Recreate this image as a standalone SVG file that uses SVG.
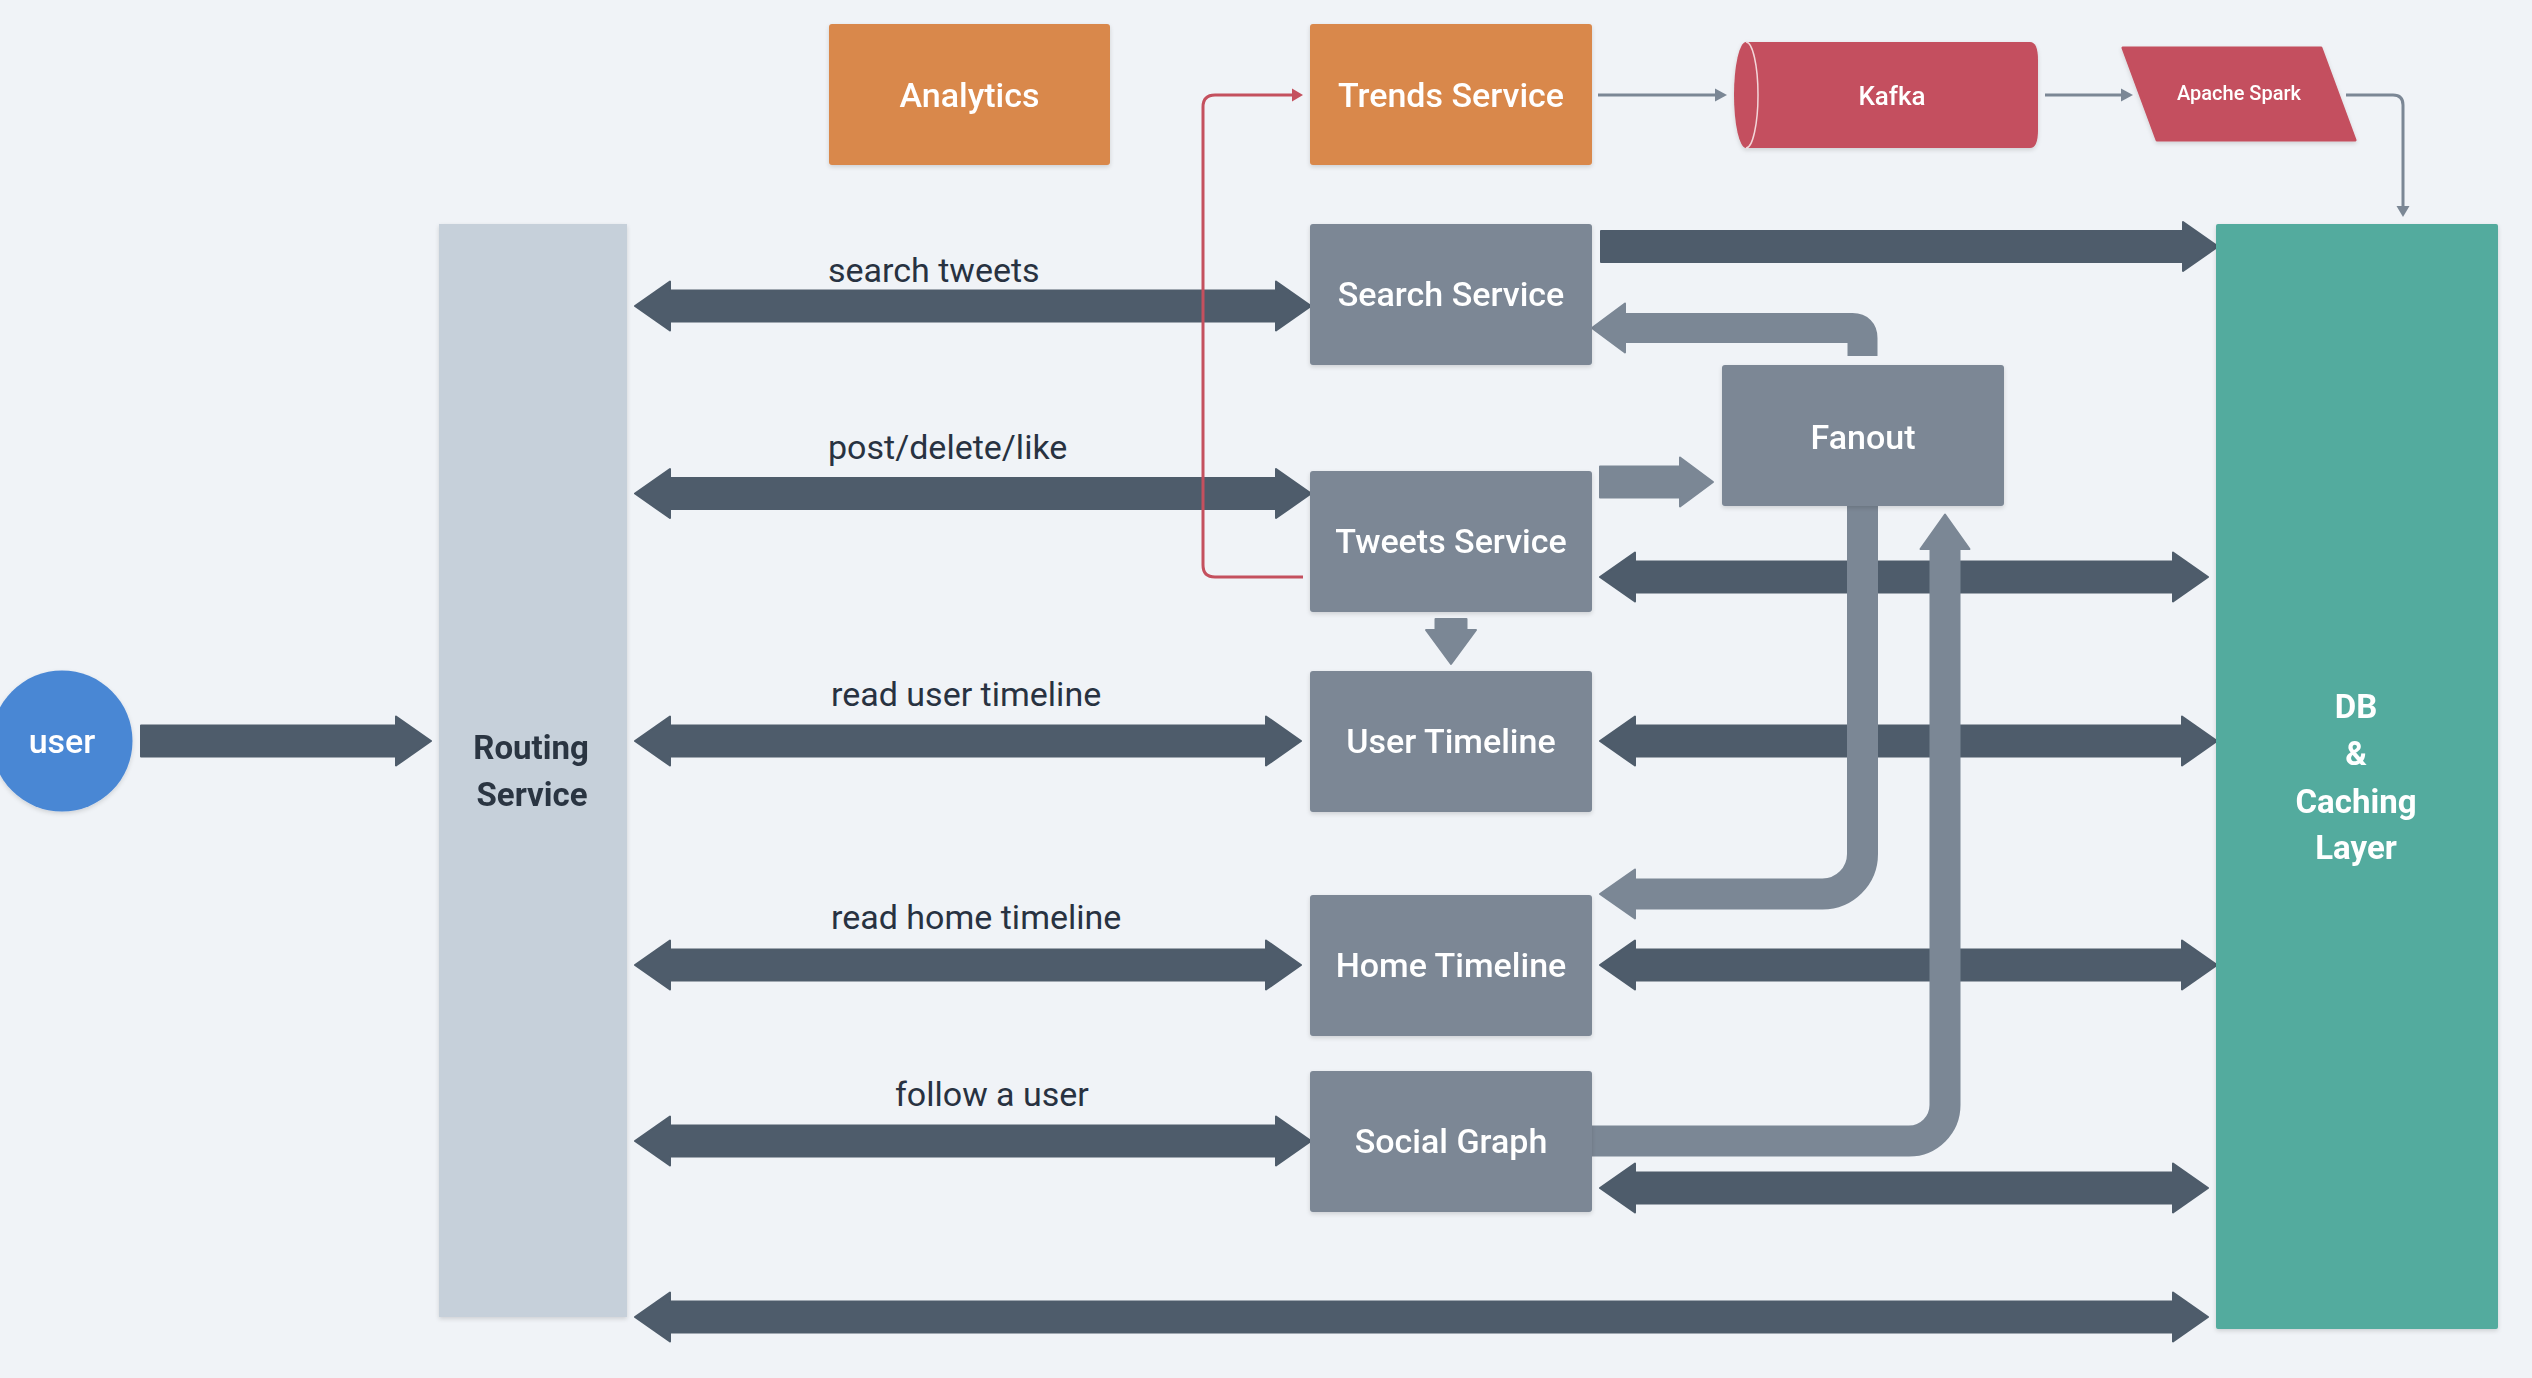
<svg xmlns="http://www.w3.org/2000/svg" width="2532" height="1378" viewBox="0 0 2532 1378">
<defs>
<filter id="sh" x="-10%" y="-10%" width="120%" height="120%">
<feDropShadow dx="0" dy="2" stdDeviation="2" flood-color="#000" flood-opacity="0.14"/>
</filter>
</defs>
<style>
.bg{fill:#f0f3f7}
.gray{fill:#7b8795}
.orange{fill:#d9884b}
.red{fill:#c4505e}
.teal{fill:#52ab9e}
.rout{fill:#c6d0da}
.blue{fill:#4a87d4}
.dark{fill:#4e5c6b;stroke:#4e5c6b;stroke-width:2;stroke-linejoin:round}
.garr{fill:#7b8795;stroke:#7b8795;stroke-width:2;stroke-linejoin:round}
.gpath{fill:none;stroke:#7b8795;stroke-width:31}
.thin{fill:none;stroke:#7b8795;stroke-width:3}
.thinred{fill:none;stroke:#c4505e;stroke-width:3}
.t{font-family:Roboto,"Liberation Sans",sans-serif;fill:#fff;text-anchor:middle}
.lbl{font-family:Roboto,"Liberation Sans",sans-serif;fill:#283241;font-size:34px}
.nl{font-size:34px;font-weight:500}
.b{font-weight:700}
</style>
<rect class="bg" x="0" y="0" width="2532" height="1378"/>

<g id="connectors">
<polygon class="dark" points="635,306 670,281.5 670,290.5 1276,290.5 1276,281.5 1311,306 1276,330.5 1276,321.5 670,321.5 670,330.5"/>
<polygon class="dark" points="635,493.5 670,469 670,478 1276,478 1276,469 1311,493.5 1276,518 1276,509 670,509 670,518"/>
<polygon class="dark" points="635,741 670,716.5 670,725.5 1266,725.5 1266,716.5 1301,741 1266,765.5 1266,756.5 670,756.5 670,765.5"/>
<polygon class="dark" points="635,965 670,940.5 670,949.5 1266,949.5 1266,940.5 1301,965 1266,989.5 1266,980.5 670,980.5 670,989.5"/>
<polygon class="dark" points="635,1141 670,1116.5 670,1125.5 1276,1125.5 1276,1116.5 1311,1141 1276,1165.5 1276,1156.5 670,1156.5 670,1165.5"/>
<polygon class="dark" points="635,1317 670,1292.5 670,1301.5 2173,1301.5 2173,1292.5 2208,1317 2173,1341.5 2173,1332.5 670,1332.5 670,1341.5"/>
<polygon class="dark" points="141,725.5 396,725.5 396,716.5 431,741 396,765.5 396,756.5 141,756.5"/>
<polygon class="dark" points="1601,231 2183,231 2183,222 2218,246.5 2183,271 2183,262 1601,262"/>
<polygon class="dark" points="1600,577 1635,552.5 1635,561.5 2173,561.5 2173,552.5 2208,577 2173,601.5 2173,592.5 1635,592.5 1635,601.5"/>
<polygon class="dark" points="1600,741 1635,716.5 1635,725.5 2182,725.5 2182,716.5 2217,741 2182,765.5 2182,756.5 1635,756.5 1635,765.5"/>
<polygon class="dark" points="1600,965 1635,940.5 1635,949.5 2182,949.5 2182,940.5 2217,965 2182,989.5 2182,980.5 1635,980.5 1635,989.5"/>
<polygon class="dark" points="1600,1188 1635,1163.5 1635,1172.5 2173,1172.5 2173,1163.5 2208,1188 2173,1212.5 2173,1203.5 1635,1203.5 1635,1212.5"/>
<polygon class="garr" points="1600,466.5 1680,466.5 1680,457.5 1713,482 1680,506.5 1680,497.5 1600,497.5"/>
<polygon class="garr" points="1435.5,619 1466.5,619 1466.5,630 1476,630 1451,664 1426,630 1435.5,630"/>
<path class="gpath" d="M1862.5,356 V338 Q1862.5,328 1852.5,328 H1622" style="stroke-width:30"/>
<polygon class="garr" points="1625,303.5 1592,328 1625,352.5"/>
<path class="gpath" d="M1862.5,500 V854 A40,40 0 0 1 1822.5,894 H1633"/>
<polygon class="garr" points="1635,869.5 1600,894 1635,918.5"/>
<path class="gpath" d="M1590,1141 H1909 A36,36 0 0 0 1945,1105 V547"/>
<polygon class="garr" points="1920.5,549 1945,514.5 1969.5,549"/>
<path class="thin" d="M1598,95 H1718"/>
<polygon fill="#7b8795" points="1715,88.5 1727,95 1715,101.5"/>
<path class="thin" d="M2045,95 H2124"/>
<polygon fill="#7b8795" points="2121,88.5 2133,95 2121,101.5"/>
<path class="thin" d="M2346,95 H2393 Q2403,95 2403,105 V208"/>
<polygon fill="#7b8795" points="2396.5,206 2403,217 2409.5,206"/>
<path class="thinred" d="M1303,577 H1215 Q1203,577 1203,565 V107 Q1203,95 1215,95 H1294"/>
<polygon fill="#c4505e" points="1292,88.5 1303,95 1292,101.5"/>
</g>

<g id="labels">
<text class="lbl" x="828" y="282">search tweets</text>
<text class="lbl" x="828" y="459">post/delete/like</text>
<text class="lbl" x="831" y="706">read user timeline</text>
<text class="lbl" x="831" y="929">read home timeline</text>
<text class="lbl" x="895" y="1106">follow a user</text>
</g>

<g id="user" filter="url(#sh)">
<circle class="blue" cx="62" cy="741" r="70.5"/>
<text class="t nl" x="62" y="753">user</text>
</g>

<g id="routing-service" filter="url(#sh)">
<rect class="rout" x="439" y="224" width="188" height="1093"/>
<text class="t b" style="fill:#2b3542;font-size:33px" x="531" y="759">Routing</text>
<text class="t b" style="fill:#2b3542;font-size:33px" x="532" y="806">Service</text>
</g>

<g id="analytics" filter="url(#sh)">
<rect class="orange" x="829" y="24" width="281" height="141" rx="3"/>
<text class="t nl" x="969.5" y="107">Analytics</text>
</g>

<g id="trends-service" filter="url(#sh)">
<rect class="orange" x="1310" y="24" width="282" height="141" rx="3"/>
<text class="t nl" x="1451" y="107">Trends Service</text>
</g>

<g id="search-service" filter="url(#sh)">
<rect class="gray" x="1310" y="224" width="282" height="141" rx="3"/>
<text class="t nl" x="1451" y="306">Search Service</text>
</g>

<g id="tweets-service" filter="url(#sh)">
<rect class="gray" x="1310" y="471" width="282" height="141" rx="3"/>
<text class="t nl" x="1451" y="553">Tweets Service</text>
</g>

<g id="user-timeline" filter="url(#sh)">
<rect class="gray" x="1310" y="671" width="282" height="141" rx="3"/>
<text class="t nl" x="1451" y="753">User Timeline</text>
</g>

<g id="home-timeline" filter="url(#sh)">
<rect class="gray" x="1310" y="895" width="282" height="141" rx="3"/>
<text class="t nl" x="1451" y="977">Home Timeline</text>
</g>

<g id="social-graph" filter="url(#sh)">
<rect class="gray" x="1310" y="1071" width="282" height="141" rx="3"/>
<text class="t nl" x="1451" y="1153">Social Graph</text>
</g>

<g id="fanout" filter="url(#sh)">
<rect class="gray" x="1722" y="365" width="282" height="141" rx="3"/>
<text class="t nl" x="1863" y="449">Fanout</text>
</g>

<g id="kafka" filter="url(#sh)">
<path class="red" d="M1746,42 H2030 Q2038,42 2038,60 V130 Q2038,148 2030,148 H1746 A12,53 0 0 1 1746,42 Z"/>
<path d="M1746,42 A12,53 0 0 1 1746,148" fill="none" stroke="#f3d6da" stroke-width="1.5"/>
<text class="t" style="font-size:26px;font-weight:500" x="1892" y="105">Kafka</text>
</g>

<g id="apache-spark" filter="url(#sh)">
<polygon class="red" stroke="#c4505e" stroke-width="3" stroke-linejoin="round" points="2123,48 2321,48 2355,140 2157,140"/>
<text class="t" style="font-size:20px;font-weight:500" x="2239" y="100">Apache Spark</text>
</g>

<g id="db-caching-layer" filter="url(#sh)">
<rect class="teal" x="2216" y="224" width="282" height="1105" rx="2"/>
<text class="t b" style="font-size:33px" x="2356" y="718">DB</text>
<text class="t b" style="font-size:33px" x="2356" y="765">&amp;</text>
<text class="t b" style="font-size:33px" x="2356" y="813">Caching</text>
<text class="t b" style="font-size:33px" x="2356" y="859">Layer</text>
</g>
</svg>
